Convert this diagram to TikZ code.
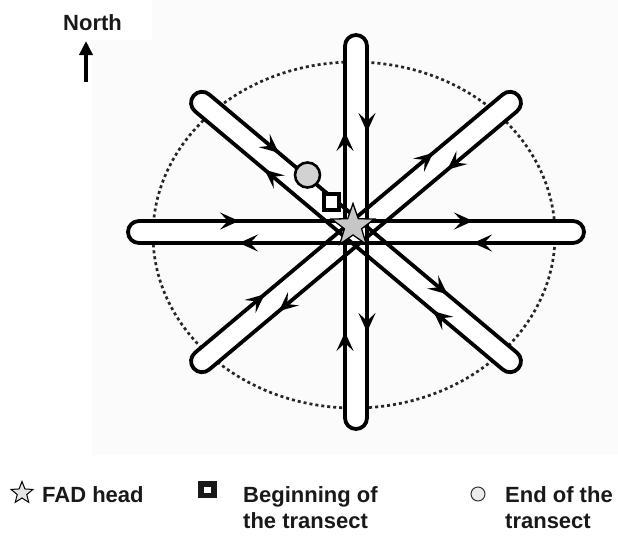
\documentclass[tikz,border=0pt]{standalone}
\usepackage{fontspec}
\setmainfont{Liberation Sans}
\usetikzlibrary{arrows.meta,shapes.geometric}
\tikzset{
  loopline/.style={line width=3.8pt, rounded corners=11pt},
  flowtip/.style={line width=3.8pt, -{Stealth[length=19pt,width=17pt,inset=8pt]}},
  ringline/.style={line width=2.7pt, dash pattern=on 3pt off 3pt, black!85},
  lbl/.style={font=\fontsize{22}{28}\bfseries\selectfont, inner sep=0pt, anchor=base west, text=black!90},
}
\newcommand{\stadfill}[2]{% angle, half length
  \begin{scope}[shift={(356,232)}, rotate=#1]
    \fill[white, rounded corners=11pt] (-#2-11,-11) rectangle (#2+11,11);
  \end{scope}}
\newcommand{\staddraw}[3]{% angle, half length, arrow distance
  \begin{scope}[shift={(356,232)}, rotate=#1]
    \draw[loopline] (-#2-11,-11) rectangle (#2+11,11);
    \draw[flowtip] (-#3-6,-11) -- (-#3,-11);
    \draw[flowtip] (#3-6,-11) -- (#3,-11);
    \draw[flowtip] (#3+6,11) -- (#3,11);
    \draw[flowtip] (-#3+6,11) -- (-#3,11);
  \end{scope}}
\begin{document}
\begin{tikzpicture}[x=1pt,y=-1pt]
\useasboundingbox (0,0) rectangle (618,538);
% faint photo background
\fill[fill={rgb,255:red,251;green,251;blue,251}] (92,0) rectangle (618,455);
\fill[white] (0,0) rectangle (152,40);
% dotted ring
\draw[ringline] (354,235) ellipse [x radius=201, y radius=173];
% transect loops
\stadfill{0}{217}
\stadfill{90}{186}
\stadfill{40}{201}
\stadfill{-40}{201}
\staddraw{0}{217}{117}
\staddraw{90}{186}{100}
\staddraw{40}{201}{110}
\staddraw{-40}{201}{110}
% markers
\node[star, star points=5, star point ratio=2.5, minimum size=45pt, inner sep=0pt,
      fill=gray!45, draw=black, line width=1.3pt] (fad) at (353,226) {};
\node[circle, minimum size=25pt, inner sep=0pt, fill=gray!35, draw=black, line width=2.6pt] (endpt) at (307.5,175) {};
\node[rectangle, minimum width=15pt, minimum height=16pt, inner sep=0pt, fill=white, draw=black, line width=3.8pt] (beginpt) at (331.5,202) {};
% north arrow
\node[lbl] (north) at (63,30) {North};
\coordinate (ntail) at (86,82);
\coordinate (nhead) at (86,41);
\draw[line width=4pt, -{Triangle[length=14pt,width=13pt]}] (ntail) -- (nhead);
% legend
\node[star, star points=5, star point ratio=2.3, minimum size=23pt, inner sep=0pt,
      fill=gray!20, draw=black, line width=1pt] (lgstar) at (22,493) {};
\node[lbl] (lgfad) at (42,502) {FAD head};
\node[rectangle, minimum width=19pt, minimum height=17pt, inner sep=0pt, fill=black!90] (lgsq) at (207.5,489.5) {};
\node[rectangle, minimum width=7pt, minimum height=6pt, inner sep=0pt, fill=white] (lgsqin) at (lgsq.center) {};
\node[lbl] (lgbeg1) at (243,502) {Beginning of};
\node[lbl] (lgbeg2) at (243,528) {the transect};
\node[circle, minimum size=14pt, inner sep=0pt, fill=gray!15, draw=black!80, line width=1pt] (lgcirc) at (478,494) {};
\node[lbl] (lgend1) at (505,502) {End of the};
\node[lbl] (lgend2) at (505,528) {transect};
\end{tikzpicture}
\end{document}
